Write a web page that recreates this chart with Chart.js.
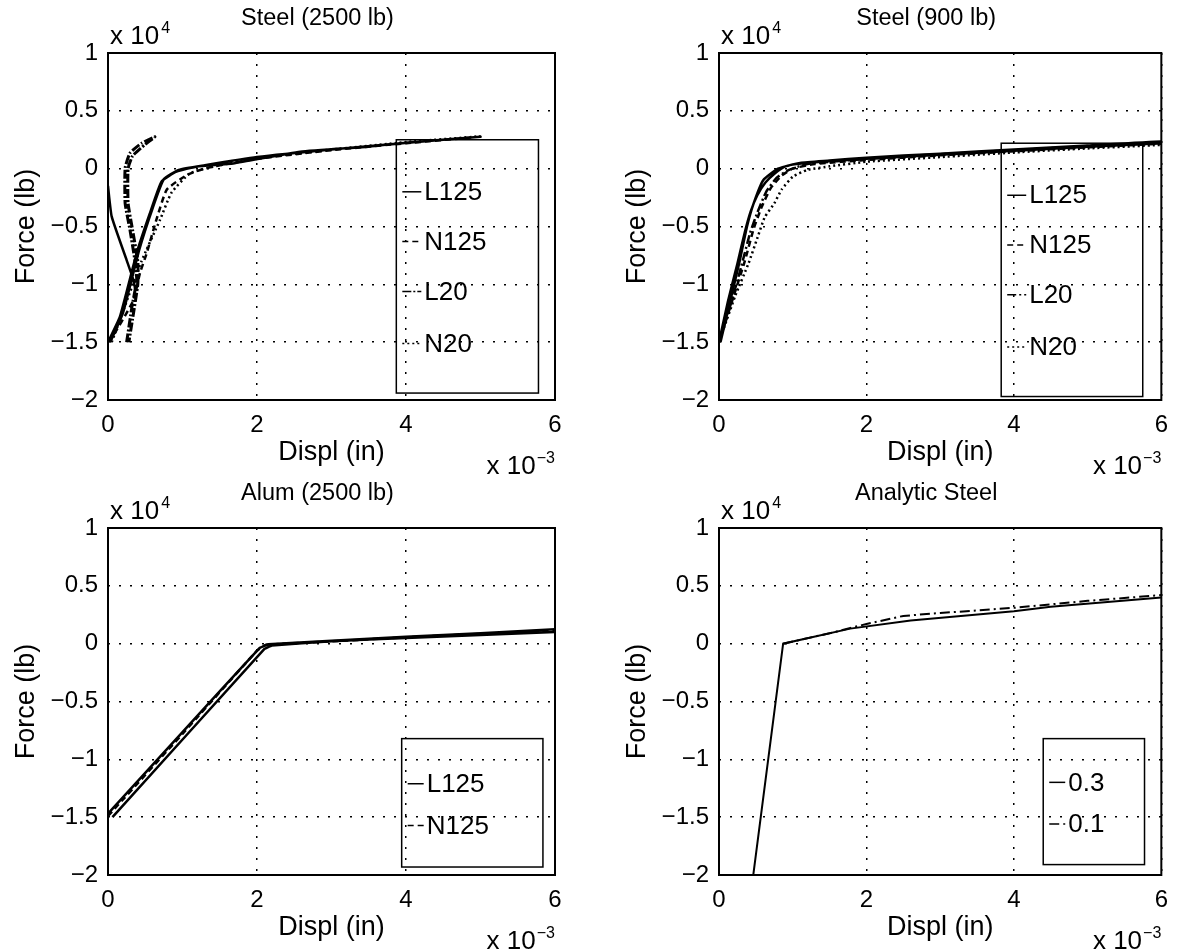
<!DOCTYPE html>
<html>
<head>
<meta charset="utf-8">
<script src="https://cdn.jsdelivr.net/npm/chart.js@4.4.1/dist/chart.umd.min.js"></script>
<style>
  html, body { margin: 0; padding: 0; background: #fff; }
  #wrap { position: relative; width: 1179px; height: 950px; overflow: hidden; }
  canvas { position: absolute; }
</style>
</head>
<body>
<div id="wrap">
  <canvas id="c1" width="590" height="475" style="left:0;top:0"></canvas>
  <canvas id="c2" width="568" height="475" style="left:611px;top:0"></canvas>
  <canvas id="c3" width="590" height="475" style="left:0;top:475px"></canvas>
  <canvas id="c4" width="568" height="475" style="left:611px;top:475px"></canvas>
</div>
<script>
const FONT = "'Liberation Sans', Arial, Helvetica, sans-serif";

// axis ticks (displacement x 1e-3 in, force x 1e4 lb)
const xTicks = [0, 2, 4, 6];
const xTickLabels = ["0", "2", "4", "6"];
const yTicks = [-2, -1.5, -1, -0.5, 0, 0.5, 1];
const yTickLabels = ["\u22122", "\u22121.5", "\u22121", "\u22120.5", "0", "0.5", "1"];

// Steel (2500 lb)
const st25L125X = [0, 0.16, 0.385, 0.56, 0.72, 0.92, 1.19, 1.68, 2.58, 3.5, 4, 5, 4.5, 3, 2, 1.3, 0.95, 0.75, 0.6, 0.42, 0.2, 0.03, null, 0, 0.05, 0.25, 0.34, 0.37];
const st25L125Y = [-1.5, -1.28, -0.73, -0.39, -0.11, -0.026, 0.017, 0.045, 0.147, 0.19, 0.225, 0.275, 0.25, 0.165, 0.1, 0.03, -0.01, -0.09, -0.34, -0.7, -1.25, -1.5, null, -0.15, -0.415, -0.79, -0.96, -1.06];
const st25N125X = [0.02, 0.34, 0.43, 0.52, 0.65, 0.79, 1.06, 1.32, 2, 3, 4, 4.9];
const st25N125Y = [-1.5, -1.14, -0.9, -0.73, -0.44, -0.18, -0.055, 0.006, 0.085, 0.16, 0.22, 0.27];
const st25L20X = [0.25, 0.32, 0.385, 0.36, 0.295, 0.23, 0.23, 0.295, 0.45, 0.63, 0.5, 0.33, 0.27, 0.27, 0.33, 0.4, 0.4, 0.33, 0.28];
const st25L20Y = [-1.5, -1.2, -0.96, -0.79, -0.53, -0.3, 0.006, 0.135, 0.22, 0.276, 0.21, 0.11, 0.0, -0.3, -0.53, -0.8, -1.0, -1.3, -1.5];
const st25N20X = [0.05, 0.45, 0.7, 0.85, 1.1, 1.5, 2, 3, 4, 5];
const st25N20Y = [-1.5, -0.8, -0.44, -0.21, -0.04, 0.03, 0.09, 0.165, 0.23, 0.28];

// Steel (900 lb)
const st9L125X = [0, 0.12, 0.25, 0.35, 0.43, 0.52, 0.63, 0.76, 0.9, 1.1, 1.5, 2, 3, 4, 5, 6, 6, 5, 4, 3, 2, 1.3, 1.0, 0.8, 0.6, 0.47, 0.38, 0.28, 0.15, 0.02];
const st9L125Y = [-1.5, -1.15, -0.82, -0.55, -0.37, -0.23, -0.12, -0.04, 0.02, 0.05, 0.07, 0.095, 0.13, 0.165, 0.2, 0.235, 0.22, 0.19, 0.155, 0.12, 0.085, 0.055, 0.035, 0.0, -0.1, -0.3, -0.5, -0.8, -1.15, -1.5];
const st9N125X = [0, 0.2, 0.35, 0.47, 0.58, 0.7, 0.85, 1.0, 1.3, 2, 3, 4, 5, 6];
const st9N125Y = [-1.5, -1.1, -0.8, -0.52, -0.33, -0.17, -0.06, 0.0, 0.04, 0.075, 0.115, 0.15, 0.185, 0.215];
const st9L20X = [0, 0.17, 0.3, 0.42, 0.52, 0.64, 0.78, 0.95, 1.2, 2, 3, 4, 5, 6];
const st9L20Y = [-1.5, -1.15, -0.85, -0.56, -0.38, -0.2, -0.08, -0.01, 0.04, 0.085, 0.125, 0.16, 0.195, 0.225];
const st9N20X = [0, 0.22, 0.4, 0.52, 0.62, 0.75, 0.85, 1.0, 1.2, 1.5, 2, 3, 4, 5, 6];
const st9N20Y = [-1.5, -1.1, -0.82, -0.6, -0.42, -0.3, -0.18, -0.07, -0.01, 0.02, 0.06, 0.1, 0.14, 0.175, 0.205];

// Alum (2500 lb)
const alL125X = [0, 1, 2.03, 2.15, 3, 4, 5, 6, 6, 5, 4, 3, 2.2, 2.1, 0.06];
const alL125Y = [-1.47, -0.765, -0.04, -0.005, 0.025, 0.06, 0.09, 0.125, 0.1, 0.075, 0.05, 0.02, -0.015, -0.045, -1.5];
const alN125X = [0, 1, 2.0, 2.12, 3, 4, 5, 6];
const alN125Y = [-1.49, -0.78, -0.06, -0.01, 0.02, 0.055, 0.085, 0.11];

// Analytic Steel
const an03X = [0.465, 0.87, 1.78, 2.6, 4, 4.5, 6];
const an03Y = [-2, 0, 0.13, 0.2, 0.28, 0.32, 0.4];
const an01X = [0.87, 1.5, 2.0, 2.5, 3, 4, 5, 6];
const an01Y = [0, 0.09, 0.17, 0.24, 0.265, 0.31, 0.37, 0.42];

function pts(xs, ys) {
  return xs.map((x, i) => ({ x: x, y: ys[i] }));
}

function line(label, xs, ys, dash, width, tension) {
  return {
    label: label,
    data: pts(xs, ys),
    showLine: true,
    borderColor: "#000",
    backgroundColor: "#000",
    borderWidth: width || 2.5,
    borderDash: dash,
    tension: tension || 0,
    pointRadius: 0,
    spanGaps: false,
  };
}

const matlabAxes = {
  id: "matlabAxes",
  afterDatasetsDraw(chart, args, opts) {
    const { ctx, chartArea: a } = chart;
    ctx.save();
    ctx.strokeStyle = "#000";
    ctx.fillStyle = "#000";
    ctx.lineWidth = 2;
    ctx.setLineDash([]);
    ctx.strokeRect(a.left, a.top, a.width, a.height);

    ctx.font = `23.5px ${FONT}`;
    ctx.textAlign = "center";
    ctx.textBaseline = "middle";
    ctx.fillText(opts.title, (a.left + a.right) / 2 - 14, a.top - 34);

    // y multiplier
    ctx.textAlign = "left";
    ctx.textBaseline = "alphabetic";
    ctx.font = `26px ${FONT}`;
    ctx.fillText("x 10", a.left + 2, a.top - 9);
    const w = ctx.measureText("x 10").width;
    ctx.font = `16px ${FONT}`;
    ctx.fillText("4", a.left + 4 + w, a.top - 20);

    // x multiplier
    ctx.textAlign = "right";
    const sw = ctx.measureText("\u22123").width;
    ctx.fillText("\u22123", a.right, a.bottom + 63);
    ctx.font = `26px ${FONT}`;
    ctx.fillText("x 10", a.right - sw - 1, a.bottom + 74);

    // legend box inside the axes
    const lg = opts.legend;
    const x0 = a.left + lg.box[0] * a.width;
    const y0 = a.top + lg.box[1] * a.height;
    const x1 = a.left + lg.box[2] * a.width;
    const y1 = a.top + lg.box[3] * a.height;
    ctx.lineWidth = 1.5;
    ctx.strokeRect(x0, y0, x1 - x0, y1 - y0);
    ctx.textAlign = "left";
    ctx.textBaseline = "middle";
    chart.data.datasets.forEach((ds, i) => {
      const y = a.top + lg.rows[i] * a.height;
      ctx.setLineDash(ds.borderDash || []);
      ctx.lineWidth = 1.5;
      ctx.beginPath();
      ctx.moveTo(x0 + 6, y);
      ctx.lineTo(x0 + lg.sample, y);
      ctx.stroke();
      ctx.setLineDash([]);
      ctx.font = `26px ${FONT}`;
      ctx.fillText(ds.label, x0 + lg.sample + 3, y + 1);
    });
    ctx.restore();
  },
};

function scales() {
  const tickFont = { family: FONT, size: 24 };
  const titleFont = { family: FONT, size: 27 };
  const grid = { color: "#000", lineWidth: 1.5, drawTicks: false };
  const border = { display: false, dash: [2, 9] };
  return {
    x: {
      type: "linear",
      min: 0,
      max: 6,
      afterBuildTicks: (s) => { s.ticks = xTicks.map((v) => ({ value: v })); },
      afterFit: (s) => { s.height = 70; },
      grid: grid,
      border: border,
      ticks: {
        color: "#000",
        font: tickFont,
        padding: 11,
        maxRotation: 0,
        autoSkip: false,
        callback: (v) => xTickLabels[xTicks.indexOf(v)],
      },
      title: { display: true, text: "Displ (in)", color: "#000", font: titleFont, padding: { top: 0, bottom: 1 } },
    },
    y: {
      type: "linear",
      min: -2,
      max: 1,
      afterBuildTicks: (s) => { s.ticks = yTicks.map((v) => ({ value: v })); },
      afterFit: (s) => { s.width = 98; },
      grid: grid,
      border: border,
      ticks: {
        color: "#000",
        font: tickFont,
        padding: 10,
        autoSkip: false,
        callback: (v) => yTickLabels[yTicks.indexOf(v)],
      },
      title: { display: true, text: "Force (lb)", color: "#000", font: titleFont, padding: { top: 0, bottom: 0 } },
    },
  };
}

function makeChart(id, title, datasets, legend, padRight) {
  return new Chart(document.getElementById(id), {
    type: "scatter",
    data: { datasets: datasets },
    options: {
      responsive: false,
      animation: false,
      layout: { padding: { left: 10, top: 53, right: padRight, bottom: 5 } },
      scales: scales(),
      plugins: {
        legend: { display: false },
        tooltip: { enabled: false },
        matlabAxes: { title: title, legend: legend },
      },
    },
    plugins: [matlabAxes],
  });
}

makeChart("c1", "Steel (2500 lb)", [
  line("L125", st25L125X, st25L125Y, [], 2.5, 0.15),
  line("N125", st25N125X, st25N125Y, [6, 4], 2.5, 0.15),
  line("L20", st25L20X, st25L20Y, [9, 2, 2, 2], 3, 0.15),
  line("N20", st25N20X, st25N20Y, [2, 3], 2.5, 0.15),
], { box: [0.645, 0.25, 0.963, 0.98], rows: [0.4, 0.543, 0.687, 0.837], sample: 25 }, 35);

makeChart("c2", "Steel (900 lb)", [
  line("L125", st9L125X, st9L125Y, [], 2.5, 0.15),
  line("N125", st9N125X, st9N125Y, [6, 4], 2.5, 0.15),
  line("L20", st9L20X, st9L20Y, [9, 3, 2, 3], 2.5, 0.15),
  line("N20", st9N20X, st9N20Y, [2, 3], 2.5, 0.15),
], { box: [0.638, 0.26, 0.958, 0.99], rows: [0.41, 0.553, 0.697, 0.847], sample: 25 }, 13);

makeChart("c3", "Alum (2500 lb)", [
  line("L125", alL125X, alL125Y, [], 2.5, 0.05),
  line("N125", alN125X, alN125Y, [6, 4], 2.5, 0.05),
], { box: [0.657, 0.607, 0.973, 0.977], rows: [0.737, 0.857], sample: 22 }, 35);

makeChart("c4", "Analytic Steel", [
  line("0.3", an03X, an03Y, [], 2),
  line("0.1", an01X, an01Y, [10, 4, 2, 4], 2),
], { box: [0.733, 0.607, 0.962, 0.97], rows: [0.733, 0.853], sample: 22 }, 13);
</script>
</body>
</html>
